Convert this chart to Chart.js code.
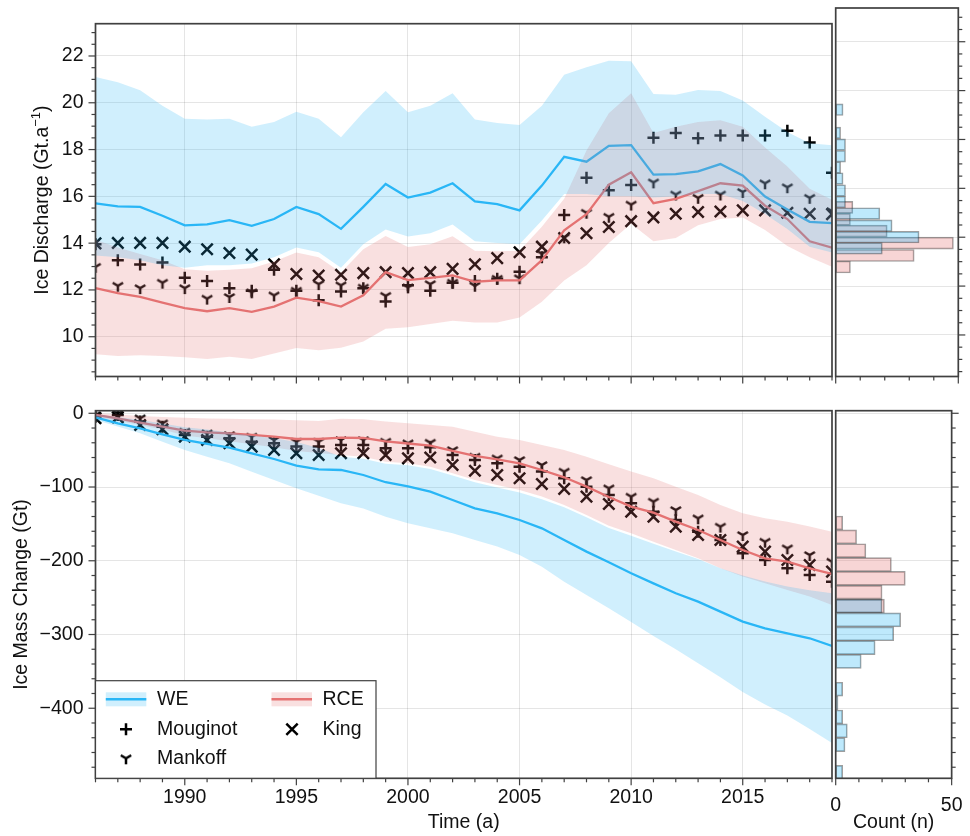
<!DOCTYPE html>
<html><head><meta charset="utf-8">
<script src="https://cdn.jsdelivr.net/npm/chart.js@4.4.1/dist/chart.umd.min.js"></script>
<style>
html,body{margin:0;padding:0;background:#fff;}
#wrap{position:relative;width:970px;height:836px;background:#fff;}
canvas{position:absolute;left:0;top:0;}
</style></head><body>
<div id="wrap">
<canvas id="c1" width="970" height="836"></canvas>
<canvas id="c2" width="970" height="836"></canvas>
<canvas id="c3" width="970" height="836"></canvas>
<canvas id="c4" width="970" height="836"></canvas>
</div>
<script>
// ---------------- DATA ----------------
const years = [1986,1987,1988,1989,1990,1991,1992,1993,1994,1995,1996,1997,1998,1999,2000,2001,2002,2003,2004,2005,2006,2007,2008,2009,2010,2011,2012,2013,2014,2015,2016,2017,2018,2019];

// Ice discharge (Gt/a)
const weDischarge      = [15.70,15.57,15.55,15.17,14.76,14.80,14.98,14.74,15.03,15.55,15.24,14.61,15.55,16.53,15.95,16.16,16.56,15.78,15.67,15.40,16.46,17.69,17.48,18.16,18.19,16.93,16.95,17.07,17.38,16.89,15.99,15.44,14.91,14.86];
const weDischargeHigh  = [21.10,20.88,20.54,19.87,19.32,19.28,19.32,18.98,19.18,19.62,19.32,18.53,19.59,20.50,19.59,19.87,20.41,19.29,19.14,19.05,19.87,21.20,21.52,21.80,21.77,20.38,20.34,20.55,20.50,20.10,19.40,18.75,18.27,18.18];
const weDischargeLow   = [13.47,13.40,13.27,13.06,12.95,13.06,13.06,13.13,13.40,13.81,13.61,12.95,13.95,14.58,14.28,14.42,14.80,14.08,14.01,13.95,14.97,16.10,16.10,16.00,16.00,15.95,16.00,16.10,16.10,15.80,15.25,14.60,13.85,13.60];
const rceDischarge     = [12.08,11.86,11.70,11.46,11.22,11.09,11.22,11.06,11.29,11.67,11.52,11.29,11.77,12.76,12.42,12.52,12.62,12.35,12.41,12.41,13.27,14.55,15.24,16.50,17.03,15.71,15.89,16.22,16.56,16.46,15.60,15.03,14.08,13.81];
const rceDischargeHigh = [14.15,13.81,13.54,13.27,12.88,12.82,12.86,12.93,13.22,13.60,13.40,12.75,13.74,14.31,13.84,13.95,14.29,13.67,13.65,13.67,14.70,15.90,17.96,19.55,20.41,18.71,18.98,19.18,19.25,18.98,18.09,17.28,16.33,15.85];
const rceDischargeLow  = [9.25,9.18,9.21,9.18,9.12,9.05,9.14,9.05,9.28,9.52,9.42,9.53,9.80,10.34,10.41,10.54,10.68,10.61,10.61,10.82,11.50,12.40,13.06,14.01,14.83,14.08,14.22,14.76,15.03,15.10,14.56,13.88,13.40,12.99];
const mouginotDischarge= [13.95,13.27,13.09,13.17,12.52,12.38,12.07,11.97,12.86,11.97,11.56,11.93,12.07,11.51,12.20,11.97,12.31,12.38,12.48,12.78,13.40,15.20,16.80,16.26,16.49,18.50,18.71,18.48,18.60,18.60,18.60,18.80,18.30,17.01];
const mankoffDischarge = [12.99,12.18,12.08,12.31,12.08,11.63,11.70,11.90,11.77,11.97,12.25,12.20,12.10,11.75,12.11,12.25,12.31,12.18,12.48,12.50,13.55,14.25,15.30,15.13,15.65,16.60,16.08,15.94,16.08,16.19,16.56,16.39,15.94,15.37];
const kingDischarge    = [13.99,14.01,14.01,14.01,13.85,13.74,13.58,13.51,13.10,12.68,12.62,12.65,12.72,12.76,12.72,12.76,12.90,13.10,13.36,13.61,13.85,14.22,14.42,14.69,14.94,15.10,15.26,15.33,15.35,15.40,15.40,15.30,15.26,15.24];

// Ice mass change (Gt)
const weMass      = [-5.5,-13.6,-20.4,-28.5,-36.2,-41.6,-46.6,-54.3,-62.0,-71.0,-76.0,-76.9,-83.7,-93.5,-99.0,-106.3,-117.6,-128.9,-135.6,-144.7,-156.0,-171.8,-187.6,-202.0,-217.0,-230.6,-244.1,-255.4,-269.0,-282.5,-291.6,-298.4,-305.1,-315.5];
const weMassHigh  = [-1,-5,-9,-14,-19,-22,-26,-30,-34,-39,-47,-59,-61.5,-68.5,-70.5,-75.5,-84.5,-93.5,-100.5,-107.5,-116.5,-127.5,-141,-155.5,-166,-177,-187.5,-197.5,-210,-220,-228,-235,-240,-244];
const weMassLow   = [-9,-18,-27,-38.5,-49.8,-58.8,-67.9,-79.2,-90.5,-101.8,-112,-122,-129,-140.2,-149.2,-156,-162.8,-171.8,-180.8,-192.1,-208,-228.3,-246.4,-264.5,-283,-302,-320,-339,-358,-378,-395,-410,-428,-447];
const rceMass     = [-2.3,-6.8,-12.7,-18.1,-23.6,-25.8,-27.2,-29.4,-31.7,-34.9,-34.9,-33.0,-33.5,-38.0,-41.0,-43.9,-51.1,-57.9,-62.4,-67.8,-76.9,-86.8,-99.5,-113.5,-126.6,-134.7,-146.9,-158.2,-171.8,-185.4,-196.7,-201.2,-210.2,-217.9];
const rceMassHigh = [0,-1.5,-3.7,-5,-6,-7,-7.5,-8,-8.5,-9.5,-10.5,-7.5,-8.2,-11.3,-13.6,-15.9,-18.1,-24.9,-31.7,-36.2,-43.0,-49.8,-58.8,-69.0,-79.1,-88.2,-99.5,-110.8,-124.3,-135.6,-142.4,-147.0,-153.7,-160.5];
const rceMassLow  = [-5,-10,-16,-22,-30,-34,-38,-42,-46,-51,-54,-56.5,-58.8,-65.6,-67.8,-72.4,-81.4,-90.4,-97.2,-104,-113,-124.3,-137.9,-152.5,-162.8,-174.1,-185.4,-196.7,-210.2,-221.5,-230.6,-239.6,-248.6,-260];
const mouginotMass= [-4.6,-2.3,-11.3,-18.1,-29.4,-31.7,-34.0,-38.5,-40.7,-45.2,-45.2,-43.0,-43.0,-47.5,-47.5,-46.0,-56.5,-63.3,-67.8,-72.4,-79.1,-88.2,-99.5,-110.8,-122.1,-133.4,-144.7,-160.5,-171.8,-189.9,-199.0,-210.2,-219.3,-228.3];
const mankoffMass = [-2.5,-0.1,-6.8,-13.6,-24.9,-27.2,-29.4,-31.7,-36.2,-38.5,-38.5,-36.2,-36.2,-38.5,-40.7,-39.8,-49.8,-58.8,-61.1,-63.3,-70.1,-79.1,-90.5,-101.7,-113.0,-119.8,-131.1,-142.4,-153.7,-165.0,-174.1,-183.1,-192.1,-201.2];
const kingMass    = [-6.8,-5.5,-15.9,-21.7,-31.7,-36.2,-40.7,-45.2,-49.8,-54.3,-56.5,-54.3,-54.3,-56.5,-61.1,-60.0,-70.1,-78.0,-83.7,-88.2,-96.0,-102.5,-113.0,-123.0,-133.4,-140.2,-153.7,-165.0,-171.8,-180.8,-187.6,-199.0,-205.7,-214.7];

// Histograms (bin centre, count)
const dischargeHistWeBins   = [19.22,18.74,18.27,17.79,17.31,16.85,16.40,15.91,15.44,14.97,14.47,14.00,13.54];
const dischargeHistWeCounts = [3,0,2,4,4,2,3,4,4,18,23,34,19];
const dischargeHistRceBins  = [15.22,14.73,14.25,13.76,13.25,12.78];
const dischargeHistRceCounts= [7,6,21,48,32,6];
const massHistWeBins   = [-261.4,-280.2,-299.0,-317.8,-336.6,-355.4,-374.2,-393.0,-411.8,-430.6,-449.4,-468.2,-487.0];
const massHistWeCounts = [20,28,25,17,11,0,3,1,3,5,4,0,3];
const massHistRceBins  = [-148.7,-167.5,-186.3,-205.1,-223.9,-242.7,-261.4];
const massHistRceCounts= [3,9,13,24,30,20,21];

// Tick labels
const timeTicks = [1990,1995,2000,2005,2010,2015];
const dischargeTicks = [10,12,14,16,18,20,22];
const massTicks = [0,-100,-200,-300,-400];
const countTicks = [0,50];

// ---------------- STYLE ----------------
const FONT = '"Liberation Sans", Arial, Helvetica, sans-serif';
const FS = 19.5;
const TEXT = '#111';
const FRAME = '#404040';
const GRID = 'rgba(0,0,0,0.10)';
const WE_LINE = '#29B6F6', RCE_LINE = '#E57373';
const WE_BAND = 'rgba(41,182,246,0.22)', RCE_BAND = 'rgba(229,115,115,0.22)';
const WE_BAR = 'rgba(41,182,246,0.3)', RCE_BAR = 'rgba(229,115,115,0.3)';
const BAR_EDGE = 'rgba(40,40,40,0.45)';
const MK_W = 2.5;
Chart.defaults.font.family = FONT;
Chart.defaults.font.size = FS;
Chart.defaults.color = TEXT;

const MAIN_LEFT = 95.5, MAIN_RIGHT = 832, HIST_LEFT = 835.7, HIST_RIGHT = 958.3;
const TOP_T = 8, TOP_B = 376.5, BOT_T = 410.7, BOT_B = 778.3;

function makeTri(r, lw){
  let s = Math.ceil(2*r + lw + 4); if (s % 2) s++;
  const c = document.createElement('canvas'); c.width = s; c.height = s;
  const g = c.getContext('2d'); const cx = s/2, cy = s/2;
  g.strokeStyle = '#000'; g.lineWidth = lw; g.lineJoin = 'miter';
  g.beginPath();
  g.moveTo(cx - r*0.866, cy - r*0.5); g.lineTo(cx, cy); g.lineTo(cx + r*0.866, cy - r*0.5);
  g.moveTo(cx, cy); g.lineTo(cx, cy + r);
  g.stroke();
  return c;
}
const TRI = makeTri(6, MK_W);

const pts = arr => years.map((yr, i) => ({x: yr, y: arr[i]}));
const range = (a, b, s) => { const r = []; for (let v = a; v <= b + 1e-9; v += s) r.push(+v.toFixed(4)); return r; };

function drawPlus(ctx, x, y, r){ ctx.beginPath(); ctx.moveTo(x-r,y); ctx.lineTo(x+r,y); ctx.moveTo(x,y-r); ctx.lineTo(x,y+r); ctx.stroke(); }
function drawX(ctx, x, y, r){ const o = r*0.7071; ctx.beginPath(); ctx.moveTo(x-o,y-o); ctx.lineTo(x+o,y+o); ctx.moveTo(x+o,y-o); ctx.lineTo(x-o,y+o); ctx.stroke(); }

function drawRotated(ctx, segs, cx, cy){
  ctx.save(); ctx.translate(cx, cy); ctx.rotate(-Math.PI/2);
  let total = 0;
  segs.forEach(s => { ctx.font = s.size + 'px ' + FONT; s.w = ctx.measureText(s.t).width; total += s.w; });
  let x = -total/2;
  ctx.fillStyle = TEXT; ctx.textBaseline = 'middle'; ctx.textAlign = 'left';
  segs.forEach(s => { ctx.font = s.size + 'px ' + FONT; ctx.fillText(s.t, x, s.dy); x += s.w; });
  ctx.restore();
}

function drawLegend(ctx, a){
  const L = a.left, B = a.bottom, W = 280.5, H = 97.6, T = B - H;
  ctx.fillStyle = '#fff'; ctx.fillRect(L, T, W, H);
  ctx.strokeStyle = FRAME; ctx.lineWidth = 1.2; ctx.strokeRect(L, T, W, H);
  const rows = [T + 18.6, T + 48.6, T + 77.6];
  const sw = (x0, y, band, line) => {
    ctx.fillStyle = band; ctx.fillRect(x0, y - 7, 40.5, 14);
    ctx.strokeStyle = line; ctx.lineWidth = 2.5; ctx.beginPath(); ctx.moveTo(x0, y); ctx.lineTo(x0 + 40.5, y); ctx.stroke();
  };
  sw(L + 10.3, rows[0], WE_BAND, WE_LINE);
  sw(L + 176, rows[0], RCE_BAND, RCE_LINE);
  ctx.strokeStyle = '#000'; ctx.lineWidth = MK_W;
  drawPlus(ctx, L + 30.5, rows[1], 6);
  drawX(ctx, L + 196.5, rows[1], 8);
  ctx.drawImage(TRI, L + 30.5 - TRI.width/2, rows[2] - TRI.height/2);
  ctx.fillStyle = TEXT; ctx.font = FS + 'px ' + FONT; ctx.textBaseline = 'middle'; ctx.textAlign = 'left';
  ctx.fillText('WE', L + 61.6, rows[0]);
  ctx.fillText('RCE', L + 227, rows[0]);
  ctx.fillText('Mouginot', L + 61.6, rows[1]);
  ctx.fillText('King', L + 227, rows[1]);
  ctx.fillText('Mankoff', L + 61.6, rows[2]);
}

function makeDecor(cfg){
  return { id: 'decor', afterDraw(chart){
    const ctx = chart.ctx, a = chart.chartArea, xs = chart.scales.x, ys = chart.scales.y;
    ctx.save();
    ctx.strokeStyle = FRAME; ctx.lineWidth = 1.2;
    const tick = (axis, vals, len) => vals.forEach(v => {
      ctx.beginPath();
      if (axis === 'x') { const p = xs.getPixelForValue(v); ctx.moveTo(p, a.bottom); ctx.lineTo(p, a.bottom + len); }
      else { const p = ys.getPixelForValue(v);
        if (cfg.ySide === 'left') { ctx.moveTo(a.left, p); ctx.lineTo(a.left - len, p); }
        else { ctx.moveTo(a.right, p); ctx.lineTo(a.right + len, p); } }
      ctx.stroke();
    });
    tick('x', cfg.xMajor, 7); tick('x', cfg.xMinor, 4);
    tick('y', cfg.yMajor, 7); tick('y', cfg.yMinor, 4);
    ctx.lineWidth = 1.7; ctx.strokeStyle = FRAME;
    ctx.strokeRect(a.left, a.top, a.right - a.left, a.bottom - a.top);
    if (cfg.yTitle) drawRotated(ctx, cfg.yTitle, a.left - cfg.yTitleOff, (a.top + a.bottom)/2);
    if (cfg.xTitle) { ctx.fillStyle = TEXT; ctx.font = FS + 'px ' + FONT; ctx.textAlign = 'center'; ctx.textBaseline = 'middle';
      ctx.fillText(cfg.xTitle, (a.left + a.right)/2, a.bottom + 44.5); }
    if (cfg.legend) drawLegend(ctx, a);
    ctx.restore();
  }};
}

const minus = v => String(v).replace('-', '\u2212');

function mainChart(id, d, yMin, yMax, yMajor, yMinor, top, bottom, showX, decor){
  const base = {borderWidth: 0, pointRadius: 0, fill: false, clip: 0};
  return new Chart(document.getElementById(id), {
    type: 'line',
    data: { datasets: [
      Object.assign({}, base, {data: pts(d.weLo)}),
      Object.assign({}, base, {data: pts(d.weHi), fill: '-1', backgroundColor: WE_BAND}),
      Object.assign({}, base, {data: pts(d.rceLo)}),
      Object.assign({}, base, {data: pts(d.rceHi), fill: '-1', backgroundColor: RCE_BAND}),
      {data: pts(d.we), borderColor: WE_LINE, borderWidth: 2.3, pointRadius: 0, fill: false, tension: 0, clip: 0},
      {data: pts(d.rce), borderColor: RCE_LINE, borderWidth: 2.3, pointRadius: 0, fill: false, tension: 0, clip: 0},
      {data: pts(d.mou), showLine: false, pointStyle: 'cross', pointRadius: 6, pointBorderWidth: MK_W, pointBorderColor: '#000', clip: 0},
      {data: pts(d.man), showLine: false, pointStyle: TRI, pointRadius: 6, clip: 0},
      {data: pts(d.king), showLine: false, pointStyle: 'crossRot', pointRadius: 8, pointBorderWidth: MK_W, pointBorderColor: '#000', clip: 0}
    ]},
    options: {
      responsive: false, animation: false, devicePixelRatio: 1, events: [],
      layout: { padding: { left: 0, top: top, right: 970 - MAIN_RIGHT, bottom: 0 } },
      plugins: { legend: {display: false}, tooltip: {enabled: false} },
      scales: {
        x: { type: 'linear', min: 1986, max: 2019,
             afterBuildTicks: s => { s.ticks = timeTicks.map(v => ({value: v})); },
             afterFit: s => { s.height = 836 - bottom; },
             grid: { color: GRID, lineWidth: 1, drawTicks: false },
             border: { display: false },
             ticks: { display: showX, padding: 7.5, autoSkip: false, maxRotation: 0, callback: v => String(v) } },
        y: { type: 'linear', min: yMin, max: yMax,
             afterBuildTicks: s => { s.ticks = yMajor.map(v => ({value: v})); },
             afterFit: s => { s.width = MAIN_LEFT; },
             grid: { color: GRID, lineWidth: 1, drawTicks: false },
             border: { display: false },
             ticks: { padding: 12, callback: v => minus(v) } }
      }
    },
    plugins: [makeDecor(Object.assign({ySide: 'left', xMajor: timeTicks, xMinor: years.filter(y => !timeTicks.includes(y)), yMajor: yMajor, yMinor: yMinor}, decor))]
  });
}

function histChart(id, weBins, weCounts, rceBins, rceCounts, thickWe, thickRce, yMin, yMax, yMajor, yMinor, top, bottom, showX, decor){
  return new Chart(document.getElementById(id), {
    type: 'bar',
    data: { datasets: [
      {data: weBins.map((b, i) => ({x: weCounts[i], y: b})), backgroundColor: WE_BAR, borderColor: BAR_EDGE, borderWidth: 1, barThickness: thickWe, grouped: false, borderSkipped: false},
      {data: rceBins.map((b, i) => ({x: rceCounts[i], y: b})), backgroundColor: RCE_BAR, borderColor: BAR_EDGE, borderWidth: 1, barThickness: thickRce, grouped: false, borderSkipped: false}
    ]},
    options: {
      indexAxis: 'y', responsive: false, animation: false, devicePixelRatio: 1, events: [],
      layout: { padding: { left: HIST_LEFT, top: top, right: 970 - HIST_RIGHT, bottom: 0 } },
      plugins: { legend: {display: false}, tooltip: {enabled: false} },
      scales: {
        x: { type: 'linear', min: 0, max: 50,
             afterBuildTicks: s => { s.ticks = countTicks.map(v => ({value: v})); },
             afterFit: s => { s.height = 836 - bottom; },
             grid: { display: false }, border: { display: false },
             ticks: { display: showX, padding: 7.5, autoSkip: false, maxRotation: 0, callback: v => String(v) } },
        y: { type: 'linear', position: 'right', min: yMin, max: yMax, offset: false,
             afterBuildTicks: s => { s.ticks = yMajor.map(v => ({value: v})); },
             afterFit: s => { s.width = 0; },
             grid: { color: GRID, lineWidth: 1, drawTicks: false, offset: false }, border: { display: false },
             ticks: { display: false } }
      }
    },
    plugins: [makeDecor(Object.assign({ySide: 'right', xMajor: [0, 50], xMinor: [10, 20, 30, 40], yMajor: yMajor, yMinor: yMinor}, decor))]
  });
}

const dischargeMinor = range(8.5, 23, 0.5).filter(v => !dischargeTicks.includes(v));
const massMinor = range(-480, 0, 20).filter(v => !massTicks.includes(v));
const D_MIN = 8.3, D_MAX = 23.38, M_MIN = -495, M_MAX = 3.5;

mainChart('c1', {we: weDischarge, weHi: weDischargeHigh, weLo: weDischargeLow, rce: rceDischarge, rceHi: rceDischargeHigh, rceLo: rceDischargeLow, mou: mouginotDischarge, man: mankoffDischarge, king: kingDischarge},
  D_MIN, D_MAX, dischargeTicks, dischargeMinor, TOP_T, TOP_B, false,
  {yTitle: [{t: 'Ice Discharge (Gt.a', size: FS, dy: 0}, {t: '\u22121', size: 13, dy: -7}, {t: ')', size: FS, dy: 0}], yTitleOff: 52.5});

histChart('c2', dischargeHistWeBins, dischargeHistWeCounts, dischargeHistRceBins, dischargeHistRceCounts, 11.6, 12,
  D_MIN, D_MAX, dischargeTicks, dischargeMinor, TOP_T, TOP_B, false, {});

mainChart('c3', {we: weMass, weHi: weMassHigh, weLo: weMassLow, rce: rceMass, rceHi: rceMassHigh, rceLo: rceMassLow, mou: mouginotMass, man: mankoffMass, king: kingMass},
  M_MIN, M_MAX, massTicks, massMinor, BOT_T, BOT_B, true,
  {yTitle: [{t: 'Ice Mass Change (Gt)', size: FS, dy: 0}], yTitleOff: 73.5, xTitle: 'Time (a)', legend: true});

histChart('c4', massHistWeBins, massHistWeCounts, massHistRceBins, massHistRceCounts, 13.9, 13.9,
  M_MIN, M_MAX, massTicks, massMinor, BOT_T, BOT_B, true, {xTitle: 'Count (n)'});
</script>
</body></html>
